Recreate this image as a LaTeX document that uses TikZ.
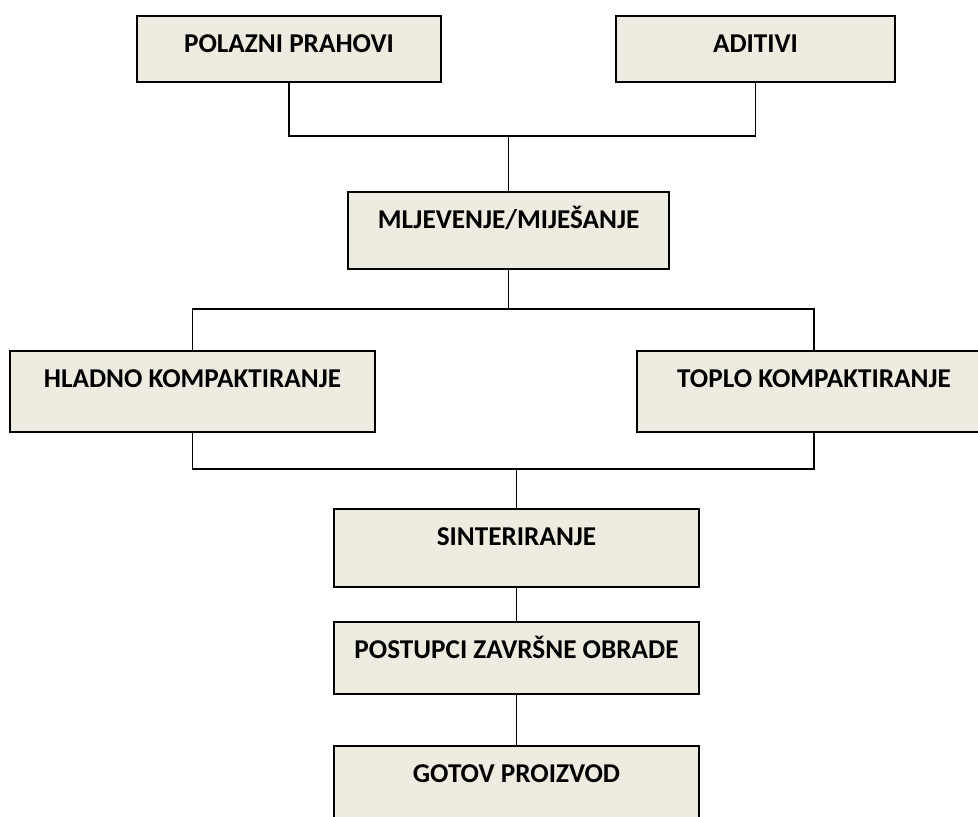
\documentclass[tikz,border=0pt]{standalone}
\usepackage{fontspec}
\setmainfont{Carlito}
\definecolor{kutija}{HTML}{EEECE1}
\tikzset{
  korak/.style={draw=black, fill=kutija, line width=0.9pt, anchor=north,
    inner sep=0pt, text height=18.5pt, align=center,
    font=\fontsize{13.6}{16}\selectfont\bfseries},
  veza/.style={draw=black, line width=0.9pt}
}
\begin{document}
\begin{tikzpicture}[x=0.5pt,y=-0.5pt]
\useasboundingbox (0,0) rectangle (978,816);
\node[korak, minimum width=152pt, text depth=14.5pt] (prahovi) at (289,15) {POLAZNI PRAHOVI};
\node[korak, minimum width=139.5pt, text depth=14.5pt] (aditivi) at (755.5,15) {ADITIVI};
\node[korak, minimum width=160.5pt, text depth=20pt] (mljevenje) at (508.5,191) {MLJEVENJE/MIJEŠANJE};
\node[korak, minimum width=182.5pt, text depth=22pt] (hladno) at (192.5,350) {HLADNO KOMPAKTIRANJE};
\node[korak, minimum width=177pt, text depth=22pt] (toplo) at (814,350) {TOPLO KOMPAKTIRANJE};
\node[korak, minimum width=182.5pt, text depth=20.5pt] (sinter) at (516.5,508) {SINTERIRANJE};
\node[korak, minimum width=182.5pt, text depth=17.5pt] (obrada) at (516.5,621) {POSTUPCI ZAVRŠNE OBRADE};
\node[korak, minimum width=182.5pt, text depth=21.5pt] (proizvod) at (516.5,745) {GOTOV PROIZVOD};
% spojevi
\coordinate (s1) at (508.5,136);
\coordinate (s2) at (508.5,309);
\coordinate (s3) at (516.5,469);
\draw[veza] (prahovi.south) |- (s1) -| (aditivi.south);
\draw[veza] (s1) -- (mljevenje.north);
\draw[veza] (mljevenje.south) -- (s2);
\draw[veza] (hladno.north) |- (s2) -| (toplo.north);
\draw[veza] (hladno.south) |- (s3) -| (toplo.south);
\draw[veza] (s3) -- (sinter.north);
\draw[veza] (sinter.south) -- (obrada.north);
\draw[veza] (obrada.south) -- (proizvod.north);
\end{tikzpicture}
\end{document}
